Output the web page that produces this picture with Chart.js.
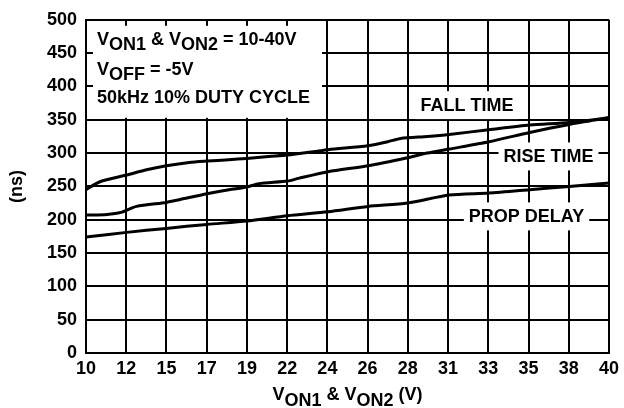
<!DOCTYPE html>
<html>
<head>
<meta charset="utf-8">
<script src="https://cdn.jsdelivr.net/npm/chart.js@4"></script>
<style>
    html, body { margin: 0; padding: 0; background: #fff; }
    #wrap { width: 624px; height: 408px; }
</style>
</head>
<body>
<div id="wrap"><canvas id="myChart" width="624" height="408"></canvas></div>
<script>
// values (x in volts, y in ns)
let $fallV  = [10, 10.8, 12.33, 13.47, 14.61, 15.92, 16.94, 18.2, 19.22, 20.47, 21.56, 23.89, 26.17, 27.31, 28.05, 29.58, 30.83, 33.11, 35.45, 37.72, 40];
let $fallNs = [245, 257, 267, 275, 281, 286, 288, 290, 292, 295, 297, 305, 311, 317, 322, 325, 328, 335, 342, 346, 353];

let $riseV  = [10, 11.2, 12.0, 12.9, 14.61, 15.35, 16.94, 18.2, 19.22, 19.91, 21.56, 22.18, 23.89, 26.17, 28.44, 29.58, 30.83, 33.11, 35.45, 37.72, 40];
let $riseNs = [207, 208, 211, 220, 226, 230, 239, 245, 249, 254, 258, 262, 272, 281, 293, 300, 306, 317, 331, 343, 353];

let $propV  = [10, 12.33, 14.61, 16.94, 19.22, 21.56, 23.89, 26.17, 28.44, 30.83, 33.11, 35.45, 37.72, 40];
let $propNs = [174, 181, 187, 193, 198, 206, 212, 220, 225, 237, 240, 245, 250, 255];

let $xTickLabels = [10, 12, 15, 17, 19, 22, 24, 26, 28, 31, 33, 35, 38, 40];
let $curveNames = ['FALL TIME', 'RISE TIME', 'PROP DELAY'];

let $ctx = document.getElementById('myChart');

function points($xs, $ys) {
    return $xs.map(function($x, $i) { return {x: $x, y: $ys[$i]}; });
}

// text with subscripts: parts = [[text, isSub], ...]
function richWidth(c, parts) {
    let w = 0;
    parts.forEach(function(p) { w += c.measureText(p[0]).width; });
    return w;
}
function drawRich(c, parts, x, y, subDrop) {
    parts.forEach(function(p) {
        c.fillText(p[0], x, p[1] ? y + subDrop : y);
        x += c.measureText(p[0]).width;
    });
}

const $font = 'bold 18px "Liberation Sans", Arial, sans-serif';

const $labels = {
    id: 'labels',
    beforeDatasetsDraw(chart) {
        let c = chart.ctx;
        let xs = chart.scales.x, ys = chart.scales.y;
        let area = chart.chartArea;
        c.save();
        c.font = $font;
        c.fillStyle = '#fff';

        // condition box top left
        c.fillRect(area.left + 7, area.top + 6, 229, 92);
        c.fillStyle = '#000';
        c.textBaseline = 'alphabetic';
        c.textAlign = 'left';
        drawRich(c, [['V', false], ['ON1', true], [' & V', false], ['ON2', true], [' = 10-40V', false]], area.left + 11, 45, 5);
        drawRich(c, [['V', false], ['OFF', true], [' = -5V', false]], area.left + 11, 75, 5);
        c.fillText('50kHz 10% DUTY CYCLE', area.left + 11, 103);

        // curve names with white boxes
        let spots = [[31.86, 372], [36.53, 295], [35.27, 205]];
        c.textAlign = 'center';
        c.textBaseline = 'middle';
        $curveNames.forEach(function(name, i) {
            let px = xs.getPixelForValue(spots[i][0]);
            let py = ys.getPixelForValue(spots[i][1]);
            let w = c.measureText(name).width + 10;
            c.fillStyle = '#fff';
            c.fillRect(px - w / 2, py - 14, w, 28);
            c.fillStyle = '#000';
            c.fillText(name, px, py + 1);
        });
        c.restore();
    },
    afterDraw(chart) {
        let c = chart.ctx;
        let area = chart.chartArea;
        c.save();
        c.font = $font;
        c.fillStyle = '#000';
        c.textBaseline = 'alphabetic';
        c.textAlign = 'left';
        let parts = [['V', false], ['ON1', true], [' & V', false], ['ON2', true], [' (V)', false]];
        let w = richWidth(c, parts);
        drawRich(c, parts, (area.left + area.right) / 2 - w / 2, 400, 6);
        c.restore();
    }
};

const $myChart = new Chart($ctx, {
    type: 'line',
    data: {
        datasets: [
            { label: $curveNames[0], data: points($fallV, $fallNs) },
            { label: $curveNames[1], data: points($riseV, $riseNs) },
            { label: $curveNames[2], data: points($propV, $propNs) }
        ]
    },
    options: {
        responsive: false,
        animation: false,
        layout: { padding: { left: 0, right: 11, top: 17, bottom: 0 } },
        elements: {
            line: { borderColor: '#000', borderWidth: 3, tension: 0.25, fill: false },
            point: { radius: 0 }
        },
        plugins: {
            legend: { display: false },
            tooltip: { enabled: false }
        },
        scales: {
            x: {
                type: 'linear',
                min: 10,
                max: 40,
                afterBuildTicks: function(axis) {
                    axis.ticks = $xTickLabels.map(function(l, i) {
                        return { value: 10 + i * 30 / ($xTickLabels.length - 1) };
                    });
                },
                afterFit: function(scale) { scale.height = 55; },
                grid: { color: '#000', lineWidth: 2, drawTicks: false },
                border: { color: '#000', width: 2 },
                ticks: {
                    color: '#000',
                    padding: 5,
                    maxRotation: 0,
                    autoSkip: false,
                    font: { family: '"Liberation Sans", Arial, sans-serif', size: 18, weight: 'bold' },
                    callback: function(v, i) { return $xTickLabels[i]; }
                }
            },
            y: {
                min: 0,
                max: 500,
                afterFit: function(scale) { scale.width = 86; },
                grid: { color: '#000', lineWidth: 2, drawTicks: false },
                border: { color: '#000', width: 2 },
                ticks: {
                    color: '#000',
                    stepSize: 50,
                    padding: 9,
                    font: { family: '"Liberation Sans", Arial, sans-serif', size: 18, weight: 'bold' }
                },
                title: {
                    display: true,
                    text: '(ns)',
                    color: '#000',
                    padding: { top: 6, bottom: 0 },
                    font: { family: '"Liberation Sans", Arial, sans-serif', size: 18, weight: 'bold' }
                }
            }
        }
    },
    plugins: [$labels]
});
</script>
</body>
</html>
